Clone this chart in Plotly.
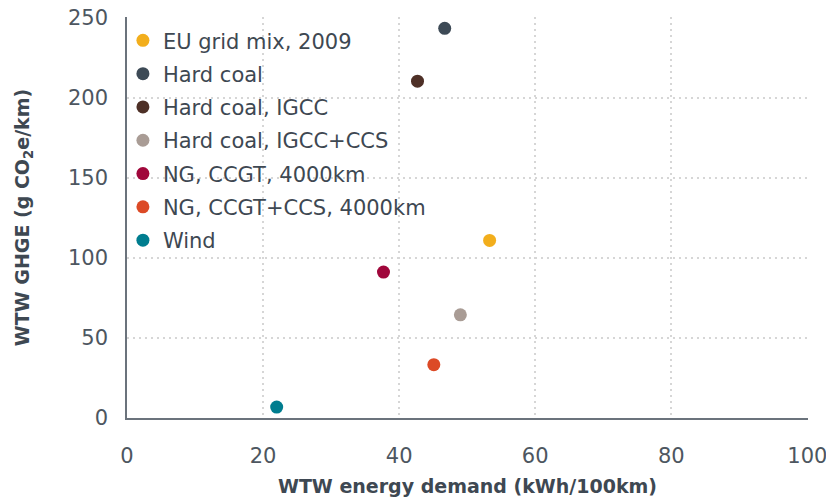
import plotly.graph_objects as go

names = ["EU grid mix, 2009", "Hard coal", "Hard coal, IGCC", "Hard coal, IGCC+CCS",
         "NG, CCGT, 4000km", "NG, CCGT+CCS, 4000km", "Wind"]
energy = [53.3, 46.7, 42.7, 49.0, 37.7, 45.1, 22.0]
ghge = [111, 243.5, 210.5, 64.5, 91.2, 33.3, 6.8]
colors = ["#F2AE1C", "#3D4A56", "#4E3027", "#A99C95", "#A0073B", "#DC4A26", "#007D8F"]

FONT = "DejaVu Sans"
TXT = "#3E4852"
TICK = "#4D5660"

fig = go.Figure()
for i, (n, x, y, c) in enumerate(zip(names, energy, ghge, colors)):
    fig.add_trace(go.Scatter(x=[x], y=[y], mode="markers", name=n, legendgroup=str(i),
                             marker=dict(color=c, size=13, line=dict(width=0))))

# page body has an 8px margin: figure is drawn from (8, 8)
fig.update_layout(
    width=826, height=492,
    margin=dict(l=119, r=26, t=9, b=82),
    paper_bgcolor="white", plot_bgcolor="white",
    font=dict(family=FONT, color=TXT),
    showlegend=True,
    legend=dict(x=-0.006, y=0.992, xanchor="left", yanchor="top",
                font=dict(size=21, color=TXT, family=FONT),
                bgcolor="rgba(0,0,0,0)", traceorder="grouped", tracegroupgap=3,
                itemwidth=30),
    xaxis=dict(range=[0, 100.1], dtick=20, showgrid=True, gridcolor="#D6D6D6",
               griddash="2px,4px", gridwidth=2, zeroline=False, automargin=False,
               showline=True, linecolor="#6B737C", linewidth=2,
               ticks="", ticklabelstandoff=18, ticklabeloverflow="allow",
               tickfont=dict(size=21, color=TICK),
               title=dict(text="<b>WTW energy demand (kWh/100km)</b>",
                          font=dict(size=19, color=TXT), standoff=12)),
    yaxis=dict(range=[0, 250.6], dtick=50, showgrid=True, gridcolor="#D6D6D6",
               griddash="2px,4px", gridwidth=2, zeroline=False, automargin=False,
               showline=True, linecolor="#6B737C", linewidth=1.5,
               ticks="", ticklabelstandoff=13, ticklabeloverflow="allow",
               tickfont=dict(size=21, color=TICK),
               title=dict(text="<b>WTW GHGE (g CO<sub>2</sub>e/km)</b>",
                          font=dict(size=19, color=TXT), standoff=33)),
)
fig.write_html("out.html")
